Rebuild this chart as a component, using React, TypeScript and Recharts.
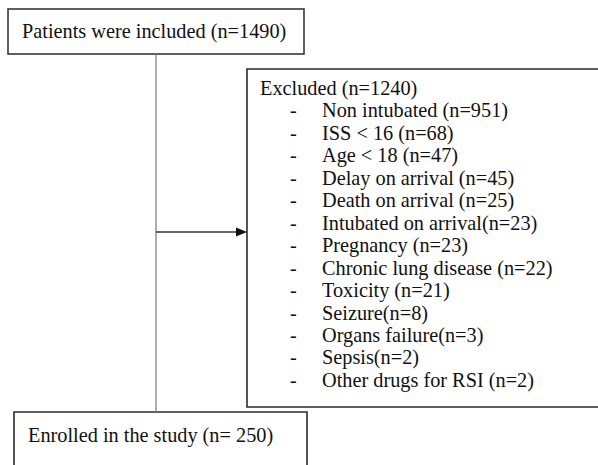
import { ComposedChart, XAxis, YAxis, Scatter, ReferenceArea, ReferenceLine } from "recharts"

// flow counts
const includedTotal = 1490
const excludedTotal = 1240
const enrolledTotal = 250

// exclusion reasons, text kept as in the figure (some have no space before the count)
const exclusionReasons = [
  "Non intubated ",
  "ISS < 16 ",
  "Age < 18 ",
  "Delay on arrival ",
  "Death on arrival ",
  "Intubated on arrival",
  "Pregnancy ",
  "Chronic lung disease ",
  "Toxicity ",
  "Seizure",
  "Organs failure",
  "Sepsis",
  "Other drugs for RSI ",
]
const exclusionCounts = [951, 68, 47, 45, 25, 23, 23, 22, 21, 8, 3, 2, 2]

const W = 598
const H = 465
const FONT = "'Liberation Serif', 'DejaVu Serif', serif"
const BORDER = "#2b2b2b"
const txtStyle = { fontFamily: FONT, fontSize: 20.3 }

// layout of the boxes, in page pixels
const topBox = { x1: 8, x2: 304, y1: 9, y2: 54 }
const exclBox = { x1: 247, x2: 640, y1: 69, y2: 407 }
const enrolBox = { x1: 14, x2: 307, y1: 412, y2: 500 }
const trunkX = 156
const arrowY = 232

const boxTexts = [
  { x: 22, y: 38, text: `Patients were included (n=${includedTotal})` },
  { x: 260, y: 95, text: `Excluded (n=${excludedTotal})` },
  { x: 28, y: 442, text: `Enrolled in the study (n= ${enrolledTotal})` },
]

const listRows = exclusionReasons.map((r, i) => ({
  x: 290,
  row: i + 1,
  text: `${r}(n=${exclusionCounts[i]})`,
}))

// row axis: row 0 = header baseline (95px), 22.45px per row
const ROW_H = 22.45
const rowDomain = [-95 / ROW_H, (H - 95) / ROW_H]

const TextShape = (p: any) => (
  <text x={p.cx} y={p.cy} style={txtStyle} fill="#111">
    {p.payload.text}
  </text>
)

const ListShape = (p: any) => (
  <g fill="#111">
    <text x={p.cx} y={p.cy} style={txtStyle}>-</text>
    <text x={p.cx + 32} y={p.cy} style={txtStyle}>{p.payload.text}</text>
  </g>
)

const ArrowShape = (p: any) => {
  const { x1, y1, x2, y2 } = p
  return (
    <g>
      <line x1={x1} y1={y1} x2={x2 - 8} y2={y2} stroke="#333" strokeWidth={1.3} />
      <polygon points={`${x2},${y2} ${x2 - 11},${y2 - 4.5} ${x2 - 11},${y2 + 4.5}`} fill="#111" />
    </g>
  )
}

export default function App() {
  return (
    <div style={{ width: W, height: H, background: "#fff" }}>
      <style>{"body{margin:0}"}</style>
      <ComposedChart width={W} height={H} margin={{ top: 0, right: 0, bottom: 0, left: 0 }}>
        <XAxis type="number" dataKey="x" domain={[0, W]} hide allowDataOverflow />
        <YAxis type="number" dataKey="y" domain={[0, H]} reversed hide allowDataOverflow />
        <YAxis yAxisId="row" type="number" dataKey="row" domain={rowDomain} reversed hide allowDataOverflow />

        <ReferenceArea {...topBox} fill="none" stroke={BORDER} strokeWidth={1.5} ifOverflow="visible" />
        <ReferenceArea {...exclBox} fill="none" stroke={BORDER} strokeWidth={1.6} ifOverflow="visible" />
        <ReferenceArea {...enrolBox} fill="none" stroke={BORDER} strokeWidth={1.6} ifOverflow="visible" />

        <ReferenceLine
          segment={[{ x: trunkX, y: topBox.y2 }, { x: trunkX, y: enrolBox.y1 }]}
          stroke="#777"
          strokeWidth={1.2}
          ifOverflow="visible"
        />
        <ReferenceLine
          segment={[{ x: trunkX, y: arrowY }, { x: exclBox.x1, y: arrowY }]}
          shape={ArrowShape}
          ifOverflow="visible"
        />

        <Scatter data={boxTexts} dataKey="y" shape={TextShape} isAnimationActive={false} />
        <Scatter data={listRows} dataKey="row" yAxisId="row" shape={ListShape} isAnimationActive={false} />
      </ComposedChart>
    </div>
  )
}
